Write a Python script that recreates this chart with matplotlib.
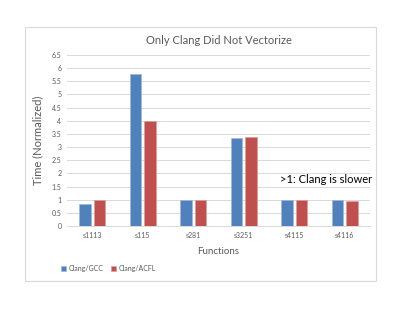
import numpy as np
import matplotlib as mpl

mpl.use('agg')

import matplotlib.pyplot as plt
from matplotlib.patches import Rectangle

plt.rcParams['font.family'] = ['Lato', 'DejaVu Sans']

functions = ['s1113', 's115', 's281', 's3251', 's4115', 's4116']
clang_gcc = [0.84, 5.79, 0.98, 3.33, 1.00, 0.97]
clang_acfl = [1.00, 3.99, 0.98, 3.40, 1.00, 0.96]

blue = '#4F81BD'
red = '#C0504D'
txt = '#595959'

fig = plt.figure(figsize=(4.07, 3.15), dpi=100)
fig.patches.append(Rectangle((25 / 407, 1 - 281 / 315), 351 / 407, 254 / 315,
                             transform=fig.transFigure, fill=False,
                             edgecolor='#D9D9D9', linewidth=0.8))

ax = fig.add_axes([67 / 407, 1 - 226 / 315, 303 / 407, 171 / 315])

x = np.arange(len(functions))
w = 0.23
ax.bar(x - w / 2 - 0.03, clang_gcc, w, color=blue, edgecolor='#9DB8DC', linewidth=0.5,
       label='Clang/GCC', zorder=3)
ax.bar(x + w / 2 + 0.03, clang_acfl, w, color=red, edgecolor='#DE9C9A', linewidth=0.5,
       label='Clang/ACFL', zorder=3)

ax.set_xlim(-0.5, len(functions) - 0.5)
ax.set_ylim(0, 6.5)
ax.set_yticks(np.arange(0, 6.51, 0.5))
ax.set_yticklabels(['0', '0.5', '1', '1.5', '2', '2.5', '3', '3.5', '4', '4.5', '5', '5.5', '6', '6.5'])
ax.set_xticks(x)
ax.set_xticklabels(functions)
ax.tick_params(length=0, labelsize=5, colors=txt, pad=4)
ax.grid(axis='y', color='#D9D9D9', linewidth=0.7, zorder=0)
for s in ['top', 'right', 'left']:
    ax.spines[s].set_visible(False)
ax.spines['bottom'].set_color('#D9D9D9')
ax.spines['bottom'].set_linewidth(0.7)

ax.set_title('Only Clang Did Not Vectorize', fontsize=8, color=txt, pad=8)
ax.set_ylabel('Time (Normalized)', fontsize=8, color=txt, labelpad=6)
ax.set_xlabel('Functions', fontsize=7, color=txt, labelpad=6)

ax.text(3.72, 1.75, '>1: Clang is slower', fontsize=8, color='black', va='center')

fig.legend(loc='center left', bbox_to_anchor=(55 / 407, 1 - 268 / 315), ncol=2,
           fontsize=5, frameon=False, handlelength=0.7, handleheight=0.7,
           handletextpad=0.3, columnspacing=1.2, labelcolor=txt)

fig.savefig('out.png', dpi=100)
